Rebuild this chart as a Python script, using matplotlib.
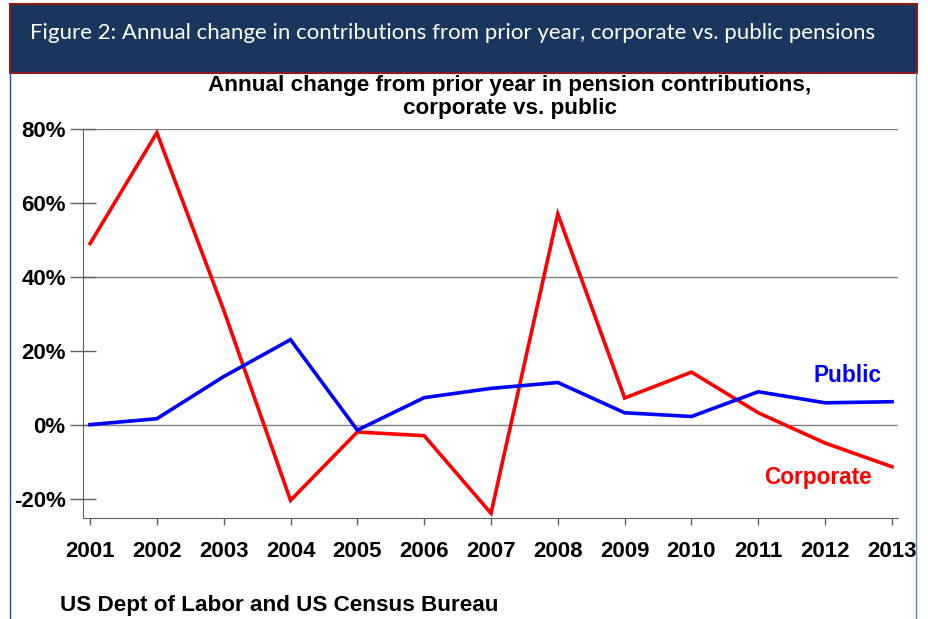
import matplotlib
matplotlib.use("Agg")
import matplotlib.pyplot as plt
from matplotlib.patches import Rectangle
from matplotlib.lines import Line2D

years = [2001, 2002, 2003, 2004, 2005, 2006, 2007, 2008, 2009, 2010, 2011, 2012, 2013]
corporate = [49, 79, 31, -20.5, -2, -3, -24, 57, 7.2, 14.2, 3.2, -5, -11.4]
public = [0, 1.6, 13, 23, -1.5, 7.3, 9.8, 11.4, 3.2, 2.2, 8.9, 5.9, 6.2]
yticks = [-20, 0, 20, 40, 60, 80]
gridlines = [0, 40, 80]

W, H = 929, 619
fig = plt.figure(figsize=(W / 100, H / 100), dpi=100)
plt.rcParams['font.family'] = ['Liberation Sans', 'DejaVu Sans']

def fx(px):
    return px / W

def fy(py):
    return 1 - py / H

# header band
fig.patches.append(Rectangle((fx(10), fy(73)), fx(907), 69 / H, transform=fig.transFigure,
                             facecolor='#1b365d', edgecolor='#8b1a1a', linewidth=1.5))
fig.lines.append(Line2D([fx(10), fx(10)], [fy(73), 0], transform=fig.transFigure, color='#2f4f8f', lw=1))
fig.lines.append(Line2D([fx(916.5), fx(916.5)], [fy(73), 0], transform=fig.transFigure, color='#6a7fae', lw=1))
fig.text(fx(30), fy(33), 'Figure 2: Annual change in contributions from prior year, corporate vs. public pensions',
         family=['Lato', 'DejaVu Sans'], fontsize=16, color='white', va='center', ha='left')

ax = fig.add_axes([fx(83), fy(517), fx(898 - 83), (517 - 129) / H])
for s in ['top', 'right']:
    ax.spines[s].set_visible(False)
for s in ['left', 'bottom']:
    ax.spines[s].set_color('#606060')
ax.spines['bottom'].set_position(('outward', 1))

ax.plot(years, corporate, color='#ff0000', lw=2.6, solid_joinstyle='miter', zorder=3)
ax.plot(years, public, color='#0000ff', lw=2.6, solid_joinstyle='miter', zorder=3)
for g in gridlines:
    ax.axhline(g, color='#808080', lw=1, zorder=1)

ax.set_ylim(-25, 80)
ax.set_xlim(2000.895, 2013.09)
ax.set_yticks(yticks)
ax.set_yticklabels([f'{v}%' for v in yticks], fontsize=16, fontweight='bold')
ax.set_xticks(years)
ax.set_xticklabels([str(y) for y in years], fontsize=16, fontweight='bold')
ax.tick_params(axis='y', direction='inout', length=19, width=1, color='#606060', pad=3)
ax.tick_params(axis='x', direction='out', length=5, width=1, color='#606060', pad=11)

ax.text(2012.85, 13.2, 'Public', color='#0000ff', fontsize=16.3, fontweight='bold', ha='right', va='center')
ax.text(2012.7, -14.2, 'Corporate', color='#ff0000', fontsize=16.3, fontweight='bold', ha='right', va='center')

fig.text(fx(510), fy(97), 'Annual change from prior year in pension contributions,\ncorporate vs. public',
         fontsize=16.2, fontweight='bold', ha='center', va='center', linespacing=1.15)
fig.text(fx(60), fy(605), 'US Dept of Labor and US Census Bureau', fontsize=16.2, fontweight='bold',
         ha='left', va='center')

fig.savefig('out.png', dpi=100)
